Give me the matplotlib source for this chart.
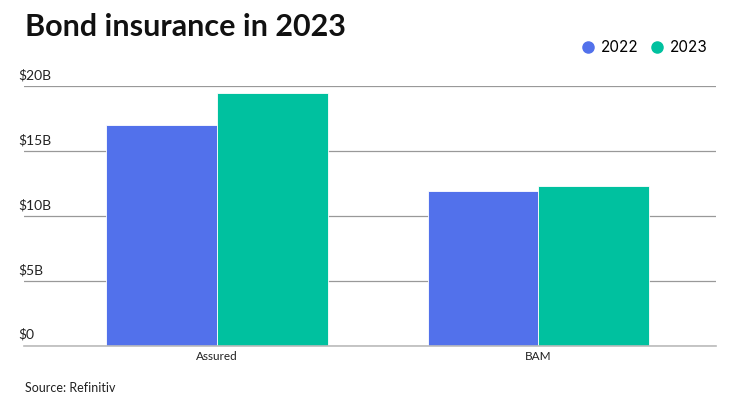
import matplotlib
matplotlib.use("Agg")
import matplotlib.pyplot as plt
import numpy as np
from matplotlib.transforms import ScaledTranslation
from matplotlib.lines import Line2D

categories = ["Assured", "BAM"]
series_names = ["2022", "2023"]
values_2022 = [17.0, 11.9]
values_2023 = [19.5, 12.3]
ytick_vals = [0, 5, 10, 15, 20]
ytick_labels = ["$0", "$5B", "$10B", "$15B", "$20B"]

c2022 = "#5271EB"
c2023 = "#00C19F"

fig = plt.figure(figsize=(7.4, 4.16), dpi=100)
ax = fig.add_axes([24/740, 1-345.7/416, 692/740, (345.7-86.3)/416])

x = np.arange(len(categories))
w = 0.345
ax.bar(x - w/2, values_2022, w, color=c2022, edgecolor="white", linewidth=0.6, zorder=3)
ax.bar(x + w/2, values_2023, w, color=c2023, edgecolor="white", linewidth=0.6, zorder=3)

ax.set_xlim(-0.6, 1.552)
ax.set_ylim(0, 20)
ax.set_yticks(ytick_vals)
ax.set_yticklabels(ytick_labels, fontsize=10, family="Lato", color="#222222", ha="left")
ax.tick_params(axis="y", length=0, pad=0)
ax.set_xticks(x)
ax.set_xticklabels(categories, fontsize=8.5, family="Lato", color="#222222")
ax.tick_params(axis="x", length=0, pad=4)
for lab in ax.get_yticklabels():
    lab.set_transform(lab.get_transform() + ScaledTranslation(-6/100, 12/100, fig.dpi_scale_trans))

ax.grid(axis="y", color="#999999", linewidth=0.9, zorder=0)
for s in ["top", "right", "left"]:
    ax.spines[s].set_visible(False)
ax.spines["bottom"].set_color("#bbbbbb")
ax.spines["bottom"].set_linewidth(1.2)
ax.spines["bottom"].set_zorder(4)

fig.text(25/740, 1-27/416, "Bond insurance in 2023", fontsize=22, fontweight="bold",
         family="Lato", va="center", ha="left", color="#111111")

handles = [Line2D([], [], marker="o", linestyle="", markersize=8, color=c) for c in (c2022, c2023)]
fig.legend(handles, series_names, loc="center right", bbox_to_anchor=(718/740, 1-48/416),
           ncol=2, frameon=False, prop={"family": "Inter", "size": 11},
           handletextpad=0.35, columnspacing=0.7, handlelength=1.0, borderpad=0.2)

fig.text(25/740, 1-388/416, "Source: Refinitiv", fontsize=9, family="Lato",
         va="center", ha="left", color="#222222")

fig.savefig("out.png", dpi=100, facecolor="white")
